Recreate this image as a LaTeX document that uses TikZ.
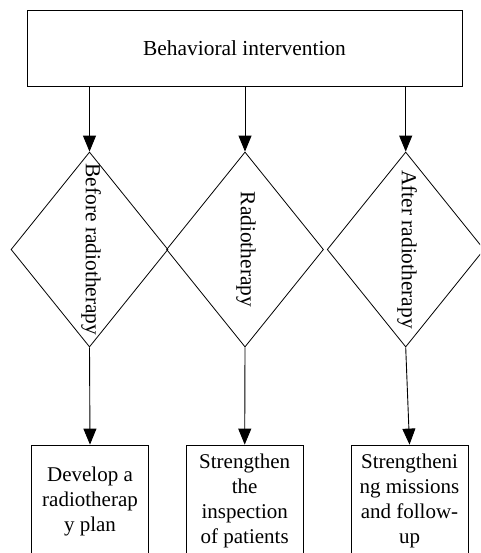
\documentclass[tikz,border=0pt]{standalone}
\usepackage{fontspec}
\setmainfont{Liberation Serif}
\usetikzlibrary{shapes.geometric,arrows.meta}
\tikzset{
  topbox/.style={draw, line width=0.8pt, minimum width=435pt, minimum height=76pt, inner sep=0pt, font=\fontsize{21.4}{25}\selectfont},
  dia/.style={draw, line width=0.8pt, shape=diamond, minimum width=157pt, minimum height=195pt, inner sep=0pt},
  dialabel/.style={rotate=-90, font=\fontsize{21.4}{25}\selectfont, inner sep=0pt},
  resbox/.style={draw, line width=0.8pt, minimum width=117pt, minimum height=112pt, inner sep=0pt, align=center, font=\fontsize{21}{25}\selectfont},
  arr/.style={line width=0.9pt, -{Triangle[length=16pt, width=13pt]}}
}
\begin{document}
\begin{tikzpicture}[x=1pt, y=-1pt]
\useasboundingbox (0,0) rectangle (480,553);
\clip (0,0) rectangle (480,553);
\fill[white] (0,0) rectangle (480,553);
\node[topbox] (top) at (244.5,48) {Behavioral intervention};
\node[dia] (d1) at (89.5,249.5) {};
\node[dia] (d2) at (245,249.5) {};
\node[dia] (d3) at (405.7,249.5) {};
\node[dialabel] (l1) at (91,249.5) {Before radiotherapy};
\node[dialabel] (l2) at (246,249.5) {Radiotherapy};
\node[dialabel] (l3) at (407,249.5) {After radiotherapy};
\node[resbox] (b1) at (90,501) {Develop a\\radiotherap\\y plan};
\node[resbox] (b2) at (244.7,501) {Strengthen\\the\\inspection\\of patients};
\node[resbox] (b3) at (409.5,501) {Strengtheni\\ng missions\\and follow-\\up};
\draw[arr] (top.south -| d1.north) -- (d1.north);
\draw[arr] (top.south -| d2.north) -- (d2.north);
\draw[arr] (top.south -| d3.north) -- (d3.north);
\draw[arr] (d1.south) -- (b1.north);
\draw[arr] (d2.south) -- (b2.north);
\draw[arr] (d3.south) -- (b3.north);
\end{tikzpicture}
\end{document}
